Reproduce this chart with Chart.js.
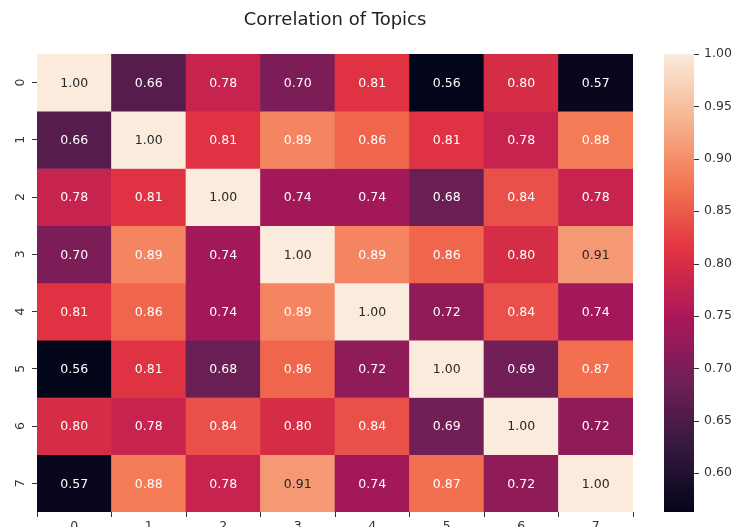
<!DOCTYPE html>
<html>
<head>
<meta charset="utf-8">
<script src="https://cdn.jsdelivr.net/npm/chart.js@4.4.0/dist/chart.umd.min.js"></script>
<style>
  html, body { margin: 0; padding: 0; background: #fff; }
</style>
</head>
<body>
<canvas id="heatmap" width="734" height="527"></canvas>
<script>
// Themen auf beiden Achsen.
const topics = ["0", "1", "2", "3", "4", "5", "6", "7"];

// Korrelationen, eine Zeile pro Thema.
const row0 = [1.00, 0.66, 0.78, 0.70, 0.81, 0.56, 0.80, 0.57];
const row1 = [0.66, 1.00, 0.81, 0.89, 0.86, 0.81, 0.78, 0.88];
const row2 = [0.78, 0.81, 1.00, 0.74, 0.74, 0.68, 0.84, 0.78];
const row3 = [0.70, 0.89, 0.74, 1.00, 0.89, 0.86, 0.80, 0.91];
const row4 = [0.81, 0.86, 0.74, 0.89, 1.00, 0.72, 0.84, 0.74];
const row5 = [0.56, 0.81, 0.68, 0.86, 0.72, 1.00, 0.69, 0.87];
const row6 = [0.80, 0.78, 0.84, 0.80, 0.84, 0.69, 1.00, 0.72];
const row7 = [0.57, 0.88, 0.78, 0.91, 0.74, 0.87, 0.72, 1.00];
const rows = [row0, row1, row2, row3, row4, row5, row6, row7];

// Beschriftung der Farbleiste.
const colorbarTicks = [0.60, 0.65, 0.70, 0.75, 0.80, 0.85, 0.90, 0.95, 1.00];
const vmin = 0.563;
const vmax = 1.0;

// "rocket" Farbskala (seaborn), StÃ¼tzstellen.
const rocket = [
    [3, 5, 26], [53, 25, 62], [112, 31, 87], [173, 23, 89],
    [225, 51, 66], [243, 118, 81], [246, 180, 143], [250, 235, 221]
];

function rocketRgb(v) {
    let t = (v - vmin) / (vmax - vmin);
    t = Math.max(0, Math.min(1, t)) * (rocket.length - 1);
    const i = Math.min(Math.floor(t), rocket.length - 2);
    const f = t - i;
    return rocket[i].map((c, k) => Math.round(c + (rocket[i + 1][k] - c) * f));
}

function rocketColor(v) {
    const c = rocketRgb(v);
    return "rgb(" + c[0] + "," + c[1] + "," + c[2] + ")";
}

// Dunkle Schrift auf hellen Zellen, sonst weiss (wie seaborn).
function textColor(v) {
    const lin = rocketRgb(v).map((c) => {
        c = c / 255;
        return c <= 0.03928 ? c / 12.92 : Math.pow((c + 0.055) / 1.055, 2.4);
    });
    const lum = 0.2126 * lin[0] + 0.7152 * lin[1] + 0.0722 * lin[2];
    return lum > 0.408 ? "#262626" : "#ffffff";
}

const font = "DejaVu Sans";
const tickColor = "#333333";

// Zahlen in die Zellen schreiben.
const annotate = {
    id: "annotate",
    afterDatasetsDraw(chart) {
        const ctx = chart.ctx;
        ctx.save();
        ctx.font = "12.5px '" + font + "'";
        ctx.textAlign = "center";
        ctx.textBaseline = "middle";
        chart.data.datasets.forEach((ds, i) => {
            chart.getDatasetMeta(i).data.forEach((bar, j) => {
                const v = rows[i][j];
                ctx.fillStyle = textColor(v);
                ctx.fillText(v.toFixed(2), bar.x, (bar.y + bar.base) / 2 + 1);
            });
        });
        ctx.restore();
    }
};

// Farbleiste neben der Achse "cb".
const colorbar = {
    id: "colorbar",
    afterDraw(chart) {
        const ctx = chart.ctx;
        const cb = chart.scales.cb;
        const x0 = cb.left + 31;
        const w = 30;
        ctx.save();
        for (let y = Math.floor(cb.top); y < Math.ceil(cb.bottom); y++) {
            ctx.fillStyle = rocketColor(cb.getValueForPixel(y + 0.5));
            ctx.fillRect(x0, y, w, 1);
        }
        ctx.strokeStyle = tickColor;
        ctx.lineWidth = 1;
        colorbarTicks.forEach((t) => {
            const y = Math.round(cb.getPixelForValue(t)) + 0.5;
            ctx.beginPath();
            ctx.moveTo(x0 + w, y);
            ctx.lineTo(x0 + w + 5, y);
            ctx.stroke();
        });
        ctx.restore();
    }
};

const ctx = document.getElementById("heatmap");
const heatmap = new Chart(ctx, {
    type: "bar",
    data: {
        labels: topics,
        datasets: rows.map((r, i) => ({
            label: topics[i],
            data: r.map(() => 1),
            backgroundColor: r.map(rocketColor),
            borderWidth: 0,
            barPercentage: 1,
            categoryPercentage: 1,
            stack: "cells"
        }))
    },
    options: {
        responsive: false,
        animation: false,
        plugins: {
            legend: { display: false },
            tooltip: { enabled: false },
            title: {
                display: true,
                text: "Correlation of Topics",
                fullSize: false,
                color: "#1f1f1f",
                font: { family: font, size: 18, weight: "normal" },
                padding: { top: 10, bottom: 22.4 }
            }
        },
        scales: {
            x: {
                stacked: true,
                border: { display: false },
                grid: { drawOnChartArea: false, tickLength: 5, tickColor: tickColor },
                ticks: {
                    color: tickColor,
                    font: { family: font, size: 12.5 },
                    padding: 2,
                    maxRotation: 0,
                    autoSkip: false
                },
                afterFit: (scale) => { scale.height = 15; }
            },
            y: {
                stacked: true,
                reverse: true,
                min: 0,
                max: 8,
                border: { display: false },
                grid: { drawOnChartArea: false, tickLength: 5, tickColor: tickColor },
                afterBuildTicks: (scale) => {
                    scale.ticks = topics.map((t, i) => ({ value: i + 0.5 }));
                },
                ticks: {
                    color: tickColor,
                    font: { family: font, size: 12.5 },
                    padding: 7,
                    minRotation: 90,
                    maxRotation: 90,
                    crossAlign: "center",
                    callback: (value) => topics[Math.floor(value)]
                },
                afterFit: (scale) => { scale.width = 37; }
            },
            cb: {
                type: "linear",
                position: "right",
                min: vmin,
                max: vmax,
                border: { display: false },
                grid: { drawOnChartArea: false, tickLength: 66, tickColor: "rgba(0,0,0,0)" },
                afterBuildTicks: (scale) => {
                    scale.ticks = colorbarTicks.map((t) => ({ value: t }));
                },
                ticks: {
                    color: tickColor,
                    font: { family: font, size: 12.5 },
                    padding: 5,
                    callback: (value) => value.toFixed(2)
                },
                afterFit: (scale) => { scale.width = 101; }
            }
        }
    },
    plugins: [annotate, colorbar]
});
</script>
</body>
</html>
